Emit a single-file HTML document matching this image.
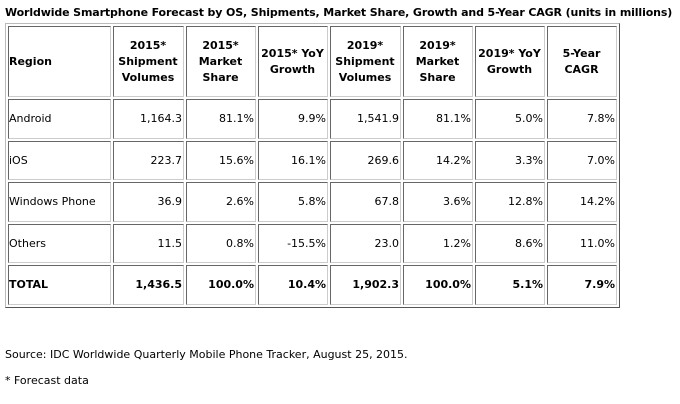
<!DOCTYPE html>
<html><head><style>
body{margin:0;background:#fff;width:680px;height:404px;position:relative;font-family:"DejaVu Sans",Verdana,sans-serif;color:#000;overflow:hidden}
.title{position:absolute;left:5px;top:6px;font-weight:bold;font-size:11px;white-space:nowrap;letter-spacing:-0.13px}
table{position:absolute;left:5px;top:23px;border-collapse:separate;border-spacing:2px;border:1px solid;border-color:#bbb #555 #555 #bbb;table-layout:fixed;width:610px}
td{border:1px solid;border-color:#666 #ccc #ccc #666;font-size:11px;padding:0 1px 0 0;height:37.5px;text-align:right}
tr.h td{height:69px;font-weight:bold;text-align:center;line-height:16px}
td.l{text-align:left!important;padding-left:0}
tr.t td{font-weight:bold}
.src{position:absolute;left:5px;top:348px;font-size:11px}
.fn{position:absolute;left:5px;top:374px;font-size:11px}
</style></head><body>
<div class="title">Worldwide Smartphone Forecast by OS, Shipments, Market Share, Growth and 5-Year CAGR (units in millions)</div>
<table>
<colgroup><col style="width:103px"><col style="width:71px"><col style="width:70px"><col style="width:70px"><col style="width:71px"><col style="width:70px"><col style="width:70px"><col style="width:70px"></colgroup>
<tr class="h"><td class="l">Region</td><td>2015*<br>Shipment<br>Volumes</td><td>2015*<br>Market<br>Share</td><td>2015* YoY<br>Growth</td><td>2019*<br>Shipment<br>Volumes</td><td>2019*<br>Market<br>Share</td><td>2019* YoY<br>Growth</td><td>5-Year<br>CAGR</td></tr>
<tr><td class="l">Android</td><td>1,164.3</td><td>81.1%</td><td>9.9%</td><td>1,541.9</td><td>81.1%</td><td>5.0%</td><td>7.8%</td></tr>
<tr><td class="l">iOS</td><td>223.7</td><td>15.6%</td><td>16.1%</td><td>269.6</td><td>14.2%</td><td>3.3%</td><td>7.0%</td></tr>
<tr><td class="l">Windows Phone</td><td>36.9</td><td>2.6%</td><td>5.8%</td><td>67.8</td><td>3.6%</td><td>12.8%</td><td>14.2%</td></tr>
<tr><td class="l">Others</td><td>11.5</td><td>0.8%</td><td>-15.5%</td><td>23.0</td><td>1.2%</td><td>8.6%</td><td>11.0%</td></tr>
<tr class="t"><td class="l">TOTAL</td><td>1,436.5</td><td>100.0%</td><td>10.4%</td><td>1,902.3</td><td>100.0%</td><td>5.1%</td><td>7.9%</td></tr>
</table>
<div class="src">Source: IDC Worldwide Quarterly Mobile Phone Tracker, August 25, 2015.</div>
<div class="fn">* Forecast data</div>
</body></html>
